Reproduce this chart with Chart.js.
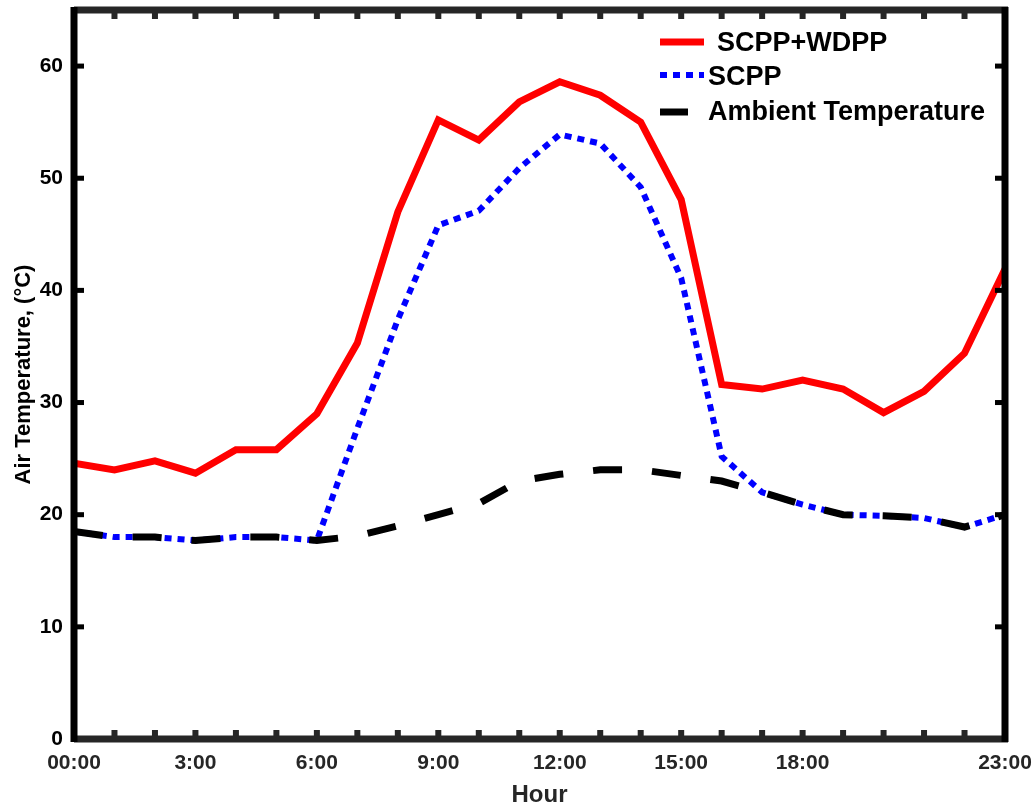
<!DOCTYPE html>
<html lang="en">
<head>
    <meta charset="UTF-8">
    <title>Air Temperature</title>
    <script src="https://cdn.jsdelivr.net/npm/chart.js"></script>
    <style>
        body { margin: 0; background: #fff; }
        canvas { display: block; }
    </style>
</head>
<body>
    <canvas id="tempChart" width="1033" height="805"></canvas>

    <script>
        // data
        const hours = [0, 1, 2, 3, 4, 5, 6, 7, 8, 9, 10, 11, 12, 13, 14, 15, 16, 17, 18, 19, 20, 21, 22, 23];
        const scppWdpp = [24.6, 24.0, 24.8, 23.7, 25.8, 25.8, 29.0, 35.3, 47.0, 55.2, 53.4, 56.8, 58.6, 57.4, 55.0, 48.1, 31.6, 31.2, 32.0, 31.2, 29.1, 31.0, 34.4, 41.9];
        const scpp = [18.5, 18.0, 18.0, 17.7, 18.0, 18.0, 17.7, 27.7, 37.4, 45.8, 47.1, 50.9, 53.9, 53.1, 49.2, 41.1, 25.2, 22.0, 20.9, 20.0, 19.9, 19.7, 18.9, 20.0];
        const ambient = [18.5, 18.0, 18.0, 17.7, 18.0, 18.0, 17.7, 18.1, 19.0, 20.0, 21.0, 23.0, 23.6, 24.0, 24.0, 23.5, 23.0, 22.0, 20.9, 20.0, 19.9, 19.7, 18.9, 20.0];

        const xTickValues = [0, 3, 6, 9, 12, 15, 18, 23];
        const xTickLabels = ['00:00', '3:00', '6:00', '9:00', '12:00', '15:00', '18:00', '23:00'];
        const yTickValues = [0, 10, 20, 30, 40, 50, 60];

        const FONT = '"Liberation Sans", Arial, sans-serif';

        function toPoints(values) {
            return hours.map((h, i) => ({ x: h, y: values[i] }));
        }

        function noScalePadding(scale) {
            scale.paddingLeft = 0;
            scale.paddingRight = 0;
            scale.paddingTop = 0;
            scale.paddingBottom = 0;
        }

        // box frame with inward ticks, drawn through the scales
        const framePlugin = {
            id: 'frame',
            afterDraw(chart) {
                const ctx = chart.ctx;
                const area = chart.chartArea;
                const xs = chart.scales.x;
                const ys = chart.scales.y;
                ctx.save();
                ctx.lineCap = 'butt';

                ctx.fillStyle = '#262626';
                hours.forEach(h => {
                    const px = xs.getPixelForValue(h);
                    ctx.fillRect(px - 3, area.bottom - 9, 6, 9);
                    ctx.fillRect(px - 3, area.top, 6, 9);
                });
                ctx.fillStyle = '#000';
                yTickValues.forEach(v => {
                    const py = ys.getPixelForValue(v);
                    ctx.fillRect(area.left, py - 2.5, 10, 5);
                    ctx.fillRect(area.right - 10, py - 2.5, 10, 5);
                });

                ctx.lineWidth = 7;
                ctx.strokeStyle = '#262626';
                ctx.beginPath();
                ctx.moveTo(area.left, area.bottom);
                ctx.lineTo(area.right + 3, area.bottom);
                ctx.moveTo(area.left, area.top);
                ctx.lineTo(area.right + 3, area.top);
                ctx.stroke();

                ctx.strokeStyle = '#000';
                ctx.beginPath();
                ctx.moveTo(area.left, area.top - 3);
                ctx.lineTo(area.left, area.bottom + 3);
                ctx.moveTo(area.right, area.top - 3);
                ctx.lineTo(area.right, area.bottom + 3);
                ctx.stroke();
                ctx.restore();
            }
        };

        // legend drawn inside the plot box, top right
        const innerLegend = {
            id: 'innerLegend',
            afterDraw(chart) {
                const ctx = chart.ctx;
                const rows = [
                    { lineX: 660, lineW: 44, y: 42, textX: 717, textY: 44 },
                    { lineX: 660, lineW: 44, y: 75, textX: 708, textY: 78 },
                    { lineX: 660, lineW: 28, y: 112, textX: 708, textY: 113 }
                ];
                ctx.save();
                chart.data.datasets.forEach((ds, i) => {
                    const r = rows[i];
                    ctx.strokeStyle = ds.borderColor;
                    ctx.lineWidth = ds.borderWidth;
                    ctx.setLineDash(i === 1 ? ds.borderDash : []);
                    ctx.beginPath();
                    ctx.moveTo(r.lineX, r.y);
                    ctx.lineTo(r.lineX + r.lineW, r.y);
                    ctx.stroke();
                    ctx.setLineDash([]);
                    ctx.fillStyle = '#000';
                    ctx.font = 'bold 27px ' + FONT;
                    ctx.textBaseline = 'middle';
                    ctx.textAlign = 'left';
                    ctx.fillText(ds.label, r.textX, r.textY);
                });
                ctx.restore();
            }
        };

        const tempChart = new Chart(document.getElementById('tempChart'), {
            type: 'line',
            data: {
                datasets: [
                    {
                        label: 'SCPP+WDPP',
                        data: toPoints(scppWdpp),
                        borderColor: '#ff0000',
                        borderWidth: 7,
                        pointRadius: 0,
                        fill: false,
                        order: 1
                    },
                    {
                        label: 'SCPP',
                        data: toPoints(scpp),
                        borderColor: '#0000ff',
                        borderWidth: 6,
                        borderDash: [7, 6],
                        pointRadius: 0,
                        fill: false,
                        order: 2
                    },
                    {
                        label: 'Ambient Temperature',
                        data: toPoints(ambient),
                        borderColor: '#000000',
                        borderWidth: 7,
                        borderDash: [29, 30],
                        pointRadius: 0,
                        fill: false,
                        order: 0
                    }
                ]
            },
            options: {
                responsive: false,
                animation: false,
                layout: { padding: { left: 0, top: 10, right: 28, bottom: 0 } },
                plugins: {
                    legend: { display: false },
                    tooltip: { enabled: false }
                },
                scales: {
                    x: {
                        type: 'linear',
                        min: 0,
                        max: 23,
                        afterBuildTicks: scale => {
                            scale.ticks = xTickValues.map(v => ({ value: v }));
                        },
                        afterFit: scale => {
                            scale.height = 66;
                            noScalePadding(scale);
                        },
                        grid: { display: false, drawTicks: false },
                        border: { display: false },
                        ticks: {
                            padding: 12,
                            maxRotation: 0,
                            autoSkip: false,
                            color: '#262626',
                            font: { family: FONT, size: 21, weight: 'bold' },
                            callback: (val, idx) => xTickLabels[idx]
                        },
                        title: {
                            display: true,
                            text: 'Hour',
                            color: '#262626',
                            font: { family: FONT, size: 24, weight: 'bold', lineHeight: 1 },
                            padding: { top: 0, bottom: -2 }
                        }
                    },
                    y: {
                        min: 0,
                        max: 65,
                        afterBuildTicks: scale => {
                            scale.ticks = yTickValues.map(v => ({ value: v }));
                        },
                        afterFit: scale => {
                            scale.width = 74;
                            noScalePadding(scale);
                        },
                        grid: { display: false, drawTicks: false },
                        border: { display: false },
                        ticks: {
                            padding: 11,
                            color: '#000',
                            font: { family: FONT, size: 21, weight: 'bold' }
                        },
                        title: {
                            display: true,
                            text: 'Air Temperature, (°C)',
                            color: '#000',
                            font: { family: FONT, size: 22, weight: 'bold', lineHeight: 1 },
                            padding: { top: 13, bottom: 0 }
                        }
                    }
                }
            },
            plugins: [framePlugin, innerLegend]
        });
    </script>
</body>
</html>
